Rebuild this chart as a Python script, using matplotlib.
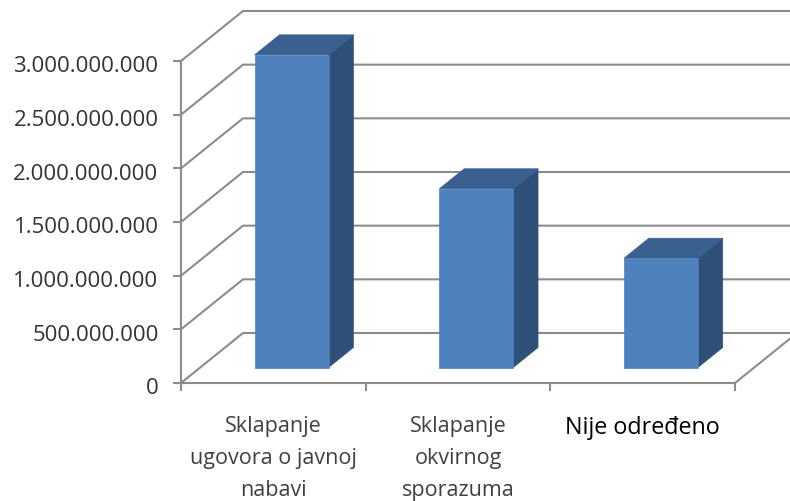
import matplotlib
matplotlib.use('Agg')
import matplotlib.pyplot as plt
from matplotlib.transforms import ScaledTranslation

categorias = ['Sklapanje\nugovora o javnoj\nnabavi', 'Sklapanje\nokvirnog\nsporazuma', 'Nije određeno']
valores = [2.913e9, 1.665e9, 1.018e9]
ticks_y = [0, 5e8, 1e9, 1.5e9, 2e9, 2.5e9, 3e9]
etiquetas_y = ['0', '500.000.000', '1.000.000.000', '1.500.000.000',
               '2.000.000.000', '2.500.000.000', '3.000.000.000']

plt.rcParams['font.family'] = ['Open Sans', 'DejaVu Sans']

W, H = 790, 502
fig = plt.figure(figsize=(W / 100, H / 100), dpi=100)
ax = fig.add_axes([181 / W, 1 - 384 / H, (735 - 181) / W, (384 - 62) / H])
ax.set_xlim(0, 3)
ax.set_ylim(0, 3e9)
ax.patch.set_visible(False)
for s in ax.spines.values():
    s.set_visible(False)

# profundidad del 3D en unidades de datos
dx = 62 / ((735 - 181) / 3)
dy = 50 / (322 / 3e9)
gris = '#8c8c8c'
ancho = 0.4
d0, d1 = 0.31, 0.71


def p(x, y, d):
    return x + dx * d, y + dy * d


# rejilla: pared lateral + pared del fondo
for v in ticks_y:
    xs, ys = zip(p(0, v, 0), p(0, v, 1), p(3, v, 1))
    ax.plot(xs, ys, color=gris, lw=1.5, clip_on=False, zorder=1, solid_joinstyle='miter')

# suelo y eje vertical
ax.plot([0, 0], [0, 3e9], color=gris, lw=1.5, clip_on=False, zorder=1)
xs, ys = zip((0, 0), (3, 0), p(3, 0, 1))
ax.plot(xs, ys, color=gris, lw=1.5, clip_on=False, zorder=1)

# barras 3D
for i, v in enumerate(valores):
    x0 = i + 0.495 - ancho / 2
    x1 = i + 0.495 + ancho / 2
    frente = [p(x0, 0, d0), p(x1, 0, d0), p(x1, v, d0), p(x0, v, d0)]
    arriba = [p(x0, v, d0), p(x1, v, d0), p(x1, v, d1), p(x0, v, d1)]
    lado = [p(x1, 0, d0), p(x1, 0, d1), p(x1, v, d1), p(x1, v, d0)]
    ax.fill(*zip(*lado), color='#2f5179', lw=0.5, clip_on=False, zorder=3)
    ax.fill(*zip(*arriba), color='#3a6090', lw=0.5, clip_on=False, zorder=3)
    ax.fill(*zip(*frente), color='#4f81bd', lw=0.5, clip_on=False, zorder=4)

ax.set_yticks(ticks_y)
ax.set_yticklabels(etiquetas_y, fontsize=16, color='#333333')
ax.tick_params(axis='y', length=6, width=1.5, color=gris, pad=10.2)

# las etiquetas del eje y van un poco mas abajo que la marca
bajar = ScaledTranslation(0, -2.5 / 100, fig.dpi_scale_trans)
for lab in ax.get_yticklabels():
    lab.set_transform(lab.get_transform() + bajar)

ax.set_xticks([0, 1, 2, 3])
ax.set_xticklabels([])
ax.set_xticks([0.5, 1.5, 2.5], minor=True)
ax.set_xticklabels(categorias, minor=True, fontsize=15.5, color='#404040', linespacing=1.68)
ax.tick_params(axis='x', which='major', length=6, width=1.5, color=gris)
ax.tick_params(axis='x', which='minor', length=0, pad=23)

# la tercera etiqueta va mas oscura y mayor
ultima = ax.get_xticklabels(minor=True)[2]
ultima.set_color('black')
ultima.set_fontsize(16.8)

fig.savefig('out.png', dpi=100)
